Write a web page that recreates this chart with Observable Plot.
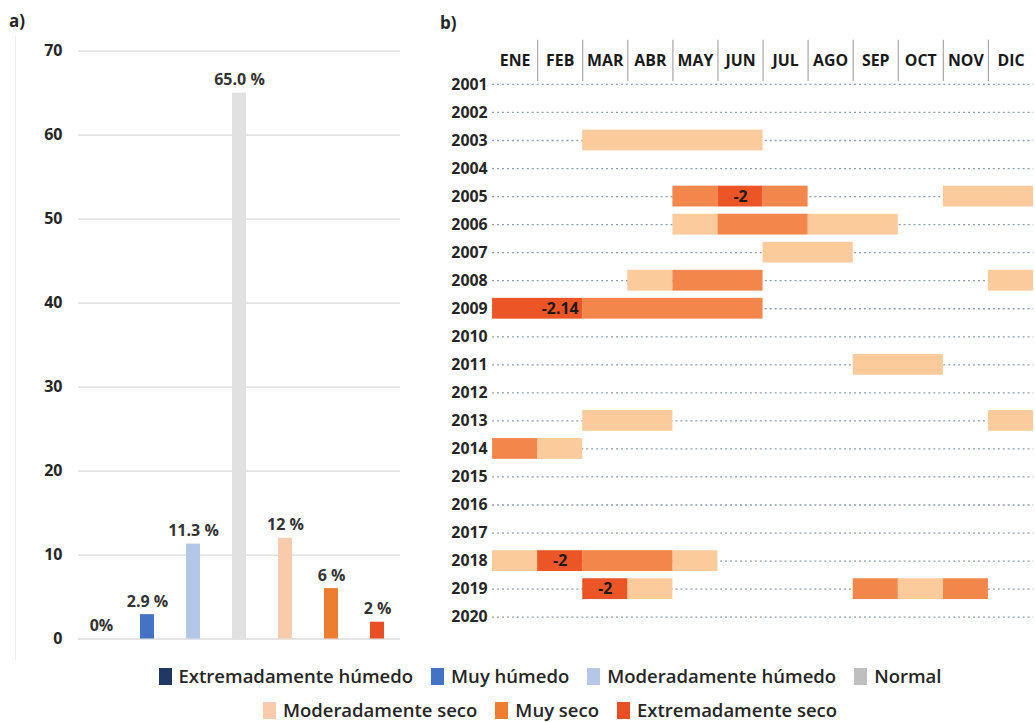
<!DOCTYPE html>
<html>
<head>
<meta charset="utf-8">
<script src="https://cdn.jsdelivr.net/npm/d3@7"></script>
<script src="https://cdn.jsdelivr.net/npm/@observablehq/plot@0.6"></script>
<style>
  body { margin: 0; width: 1035px; height: 722px; overflow: hidden; background: #fff;
         position: relative; font-family: "Open Sans", sans-serif; color: #262626; }
  .tag { position: absolute; font-weight: 700; font-size: 17px; line-height: 1; }
  .holder { position: absolute; top: 0; }
  .frame-line { position: absolute; left: 15px; top: 36px; width: 1px; height: 624px; background: #ececec; }
  .legend { position: absolute; left: 0; width: 1100px; font-size: 18.5px; font-weight: 600; line-height: 1.1; }
  .legend-row { display: flex; justify-content: center; align-items: center; gap: 18px; height: 34px; }
  .legend-item { display: flex; align-items: center; gap: 7px; white-space: nowrap; }
  .swatch { width: 13px; height: 17px; display: inline-block; }
</style>
</head>
<body>
<div class="frame-line"></div>
<div class="tag" style="left:9px;top:12px">a)</div>
<div class="tag" style="left:440px;top:14px">b)</div>
<div class="holder" id="panelA" style="left:0"></div>
<div class="holder" id="panelBHead" style="left:440px"></div>
<div class="holder" id="panelBBody" style="left:440px"></div>
<div class="legend" id="legend" style="top:659px"></div>

<script>
// ---- a) share of months per drought / wetness class ----
const categories = [
  "Extremadamente húmedo", "Muy húmedo", "Moderadamente húmedo", "Normal",
  "Moderadamente seco", "Muy seco", "Extremadamente seco"
];
const percentages = [0, 2.9, 11.3, 65.0, 12, 6, 2];
const percentLabels = ["0%", "2.9 %", "11.3 %", "65.0 %", "12 %", "6 %", "2 %"];
const barColors = ["#1F3864", "#4472C4", "#B4C7E7", "#E1E1E1", "#F8CBAD", "#ED7D31", "#EA4E24"];
const legendColors = ["#1F3864", "#4472C4", "#B4C7E7", "#BFBFBF", "#F8CBAD", "#ED7D31", "#EA4E24"];
const yTicks = [0, 10, 20, 30, 40, 50, 60, 70];

// ---- b) monthly drought episodes per year ----
const months = ["ENE", "FEB", "MAR", "ABR", "MAY", "JUN", "JUL", "AGO", "SEP", "OCT", "NOV", "DIC"];
const years = ["2001", "2002", "2003", "2004", "2005", "2006", "2007", "2008", "2009", "2010",
               "2011", "2012", "2013", "2014", "2015", "2016", "2017", "2018", "2019", "2020"];
const dryClasses = ["Moderadamente seco", "Muy seco", "Extremadamente seco"];
const dryColors = ["#FBCB9C", "#F3864A", "#EC5526"];

// [year, first month, last month]
const moderadoSpans = [
  ["2003", "MAR", "JUN"], ["2005", "NOV", "DIC"], ["2006", "MAY", "MAY"], ["2006", "AGO", "SEP"],
  ["2007", "JUL", "AGO"], ["2008", "ABR", "ABR"], ["2008", "DIC", "DIC"], ["2011", "SEP", "OCT"],
  ["2013", "MAR", "ABR"], ["2013", "DIC", "DIC"], ["2014", "FEB", "FEB"], ["2018", "ENE", "ENE"],
  ["2018", "MAY", "MAY"], ["2019", "ABR", "ABR"], ["2019", "OCT", "OCT"]
];
const muySecoSpans = [
  ["2005", "MAY", "MAY"], ["2005", "JUL", "JUL"], ["2006", "JUN", "JUL"], ["2008", "MAY", "JUN"],
  ["2009", "MAR", "JUN"], ["2014", "ENE", "ENE"], ["2018", "MAR", "ABR"], ["2019", "SEP", "SEP"],
  ["2019", "NOV", "NOV"]
];
const extremoSpans = [
  ["2005", "JUN", "JUN"], ["2009", "ENE", "FEB"], ["2018", "FEB", "FEB"], ["2019", "MAR", "MAR"]
];
// lowest index value in each extreme episode: [year, month, value]
const extremeValues = [
  ["2005", "JUN", -2], ["2009", "FEB", -2.14], ["2018", "FEB", -2], ["2019", "MAR", -2]
];

const fontStyle = {
  background: "transparent", fontFamily: "Open Sans, sans-serif",
  fontSize: "16px", fontWeight: "700", color: "#262626"
};

// Panel a
const barRows = categories.map((c, i) => ({category: c, value: percentages[i], label: percentLabels[i]}));
const chartA = Plot.plot({
  width: 440, height: 660,
  marginLeft: 78, marginRight: 40, marginTop: 50.7, marginBottom: 21.5,
  style: fontStyle,
  x: {domain: categories, padding: 0, axis: null},
  y: {domain: [0, 70], axis: null, label: null},
  color: {domain: categories, range: barColors},
  marks: [
    Plot.ruleY(yTicks, {stroke: "#DADADA", strokeWidth: 1.3}),
    Plot.axisY({ticks: yTicks, tickSize: 0, tickPadding: 16, tickFormat: d => String(d), label: null}),
    Plot.barY(barRows, {x: "category", y: "value", fill: "category", insetLeft: 16, insetRight: 16}),
    Plot.text(barRows, {x: "category", y: "value", text: "label", dy: -8, lineAnchor: "bottom", fill: "#333"})
  ]
});
document.getElementById("panelA").append(chartA);

// Panel b, month header
const headB = Plot.plot({
  width: 600, height: 82,
  marginLeft: 52.5, marginRight: 2, marginTop: 40, marginBottom: 0,
  style: fontStyle,
  x: {domain: [0, 12], axis: null},
  marks: [
    Plot.ruleX(months.slice(1), {x: d => months.indexOf(d), stroke: "#A8A8A8", strokeWidth: 1.2}),
    Plot.text(months, {x: d => months.indexOf(d) + 0.5, text: d => d, fill: "#1a1a1a"})
  ]
});
document.getElementById("panelBHead").append(headB);

// Panel b, year rows with the episodes
const spans = [
  ...moderadoSpans.map(s => ({year: s[0], from: s[1], to: s[2], cls: dryClasses[0]})),
  ...muySecoSpans.map(s => ({year: s[0], from: s[1], to: s[2], cls: dryClasses[1]})),
  ...extremoSpans.map(s => ({year: s[0], from: s[1], to: s[2], cls: dryClasses[2]}))
];
const bodyB = Plot.plot({
  width: 600, height: 660,
  marginLeft: 52.5, marginRight: 2, marginTop: 70.5, marginBottom: 24,
  style: fontStyle,
  x: {domain: [0, 12], axis: null},
  y: {domain: years, padding: 0, round: false, axis: null, label: null},
  color: {domain: dryClasses, range: dryColors},
  marks: [
    Plot.ruleY(years, {y: d => d, stroke: "#8E9BAC", strokeWidth: 1.3, strokeDasharray: "2,3"}),
    Plot.axisY({tickSize: 0, tickPadding: 5, label: null}),
    Plot.barX(spans, {
      x1: d => months.indexOf(d.from), x2: d => months.indexOf(d.to) + 1,
      y: "year", fill: "cls", insetTop: 3.65, insetBottom: 3.65
    }),
    Plot.text(extremeValues, {
      x: d => months.indexOf(d[1]) + 0.5, y: d => d[0], text: d => String(d[2]), fill: "#1a1a1a"
    })
  ]
});
document.getElementById("panelBBody").append(bodyB);

// Legend below both panels
const legend = document.getElementById("legend");
[[0, 1, 2, 3], [4, 5, 6]].forEach(idx => {
  const row = document.createElement("div");
  row.className = "legend-row";
  idx.forEach(i => {
    const item = document.createElement("div");
    item.className = "legend-item";
    const sw = document.createElement("span");
    sw.className = "swatch";
    sw.style.background = legendColors[i];
    const label = document.createElement("span");
    label.textContent = categories[i];
    item.append(sw, label);
    row.append(item);
  });
  legend.append(row);
});
</script>
</body>
</html>
